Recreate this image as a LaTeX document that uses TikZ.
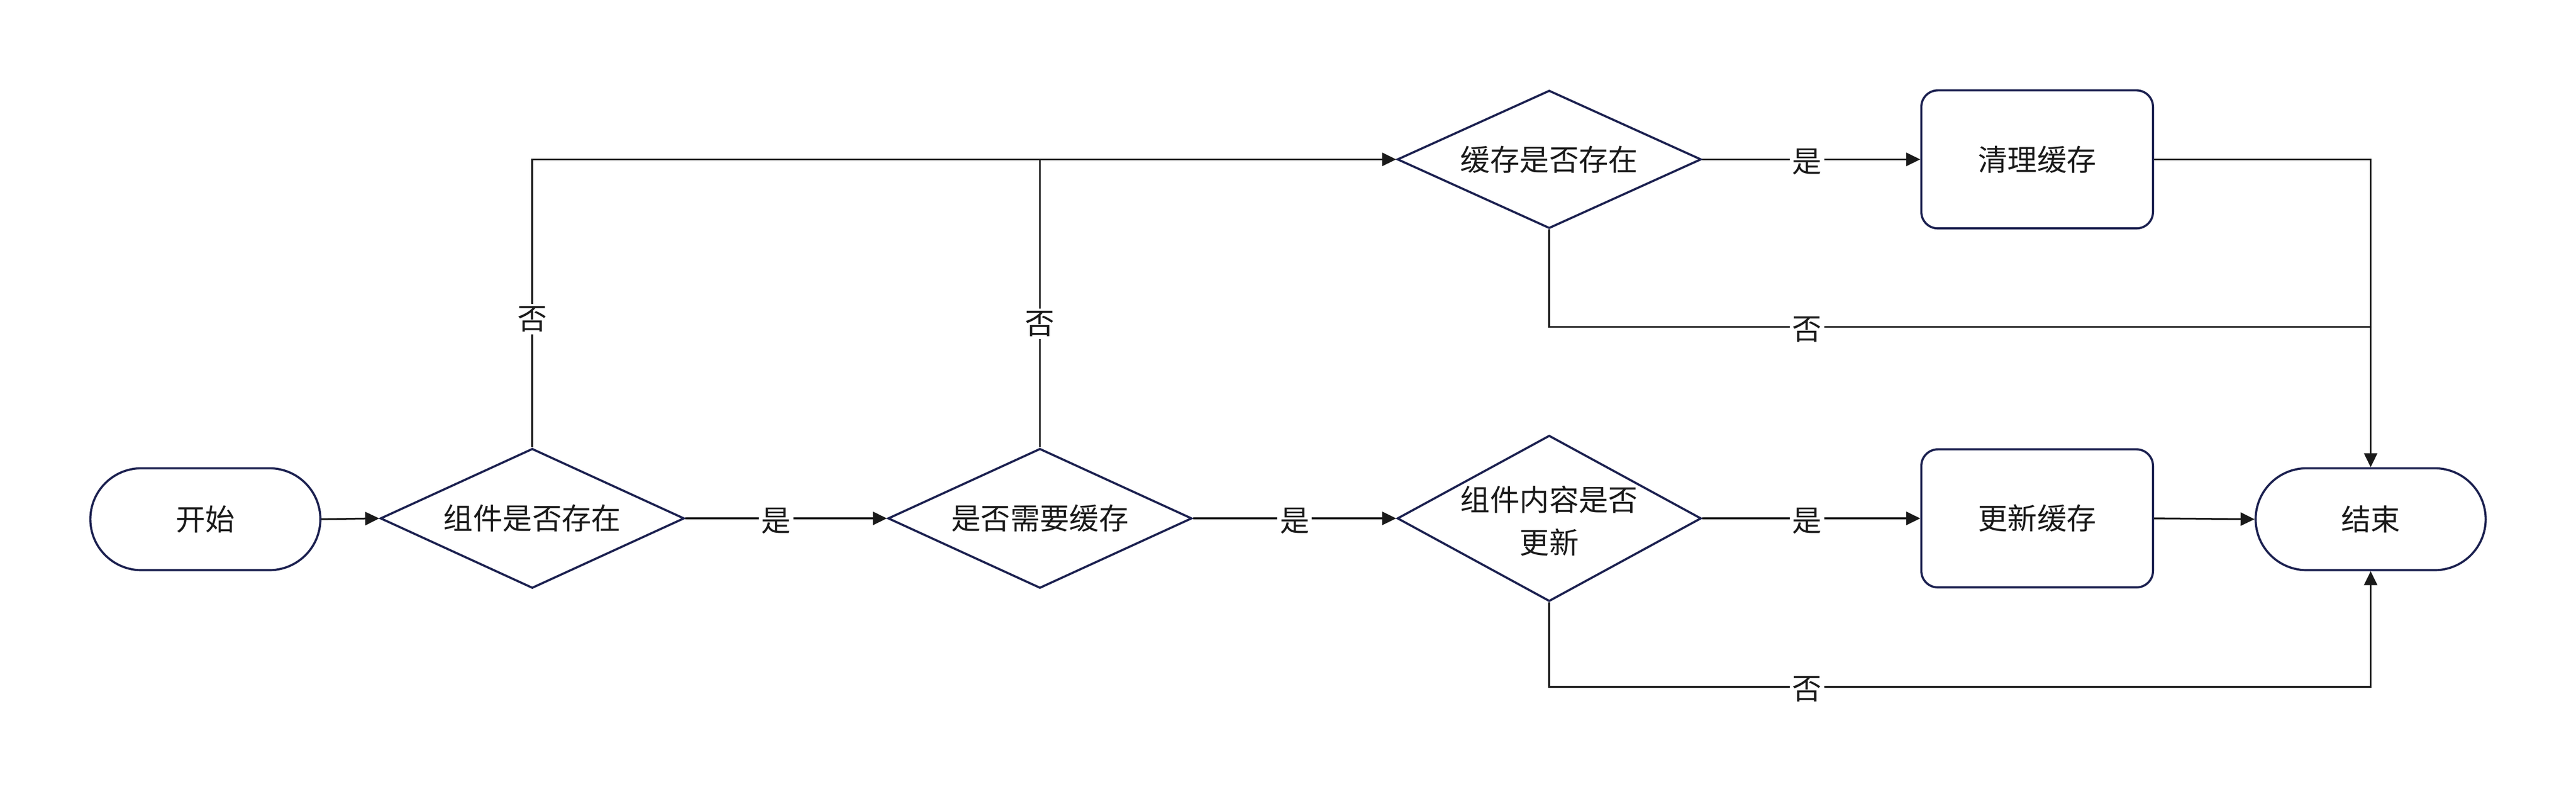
\documentclass[tikz,border=0pt]{standalone}
\usepackage{fontspec}
\setmainfont{Noto Sans CJK SC}
\usetikzlibrary{shapes.geometric,arrows.meta}
\definecolor{nodeblue}{HTML}{1C2150}
\definecolor{linegray}{HTML}{1A1A1A}
\definecolor{txt}{HTML}{1A1A1A}
\begin{document}
\begin{tikzpicture}[x=1pt,y=-1pt,
  every node/.style={text=txt},
  cjk/.style={font=\fontsize{18}{26}\selectfont},
  shapeline/.style={draw=nodeblue,line width=1.3pt,fill=white},
  terminal/.style={shapeline,cjk,rectangle,rounded corners=31pt,minimum width=140pt,minimum height=62pt,inner sep=0pt},
  process/.style={shapeline,cjk,rectangle,rounded corners=10pt,minimum width=141pt,minimum height=84pt,inner sep=0pt},
  decision/.style={shapeline,diamond,inner sep=0pt},
  dtext/.style={cjk,align=center,inner sep=0pt},
  conn/.style={draw=linegray,line width=1.1pt},
  arr/.style={conn,-{Triangle[length=8.5pt,width=8pt]}},
  lbl/.style={cjk,fill=white,inner sep=1.5pt,yshift=-1.5pt}
]
\useasboundingbox (0,0) rectangle (1568,483);

% nodes
\node[terminal] (start) at (125,316) {开始};
\node[decision,minimum width=185pt,minimum height=85pt] (d1) at (324,315.5) {};
\node[dtext] (d1t) at (d1.center) {组件是否存在};
\node[decision,minimum width=185pt,minimum height=85pt] (d2) at (633,315.5) {};
\node[dtext] (d2t) at (d2.center) {是否需要缓存};
\node[decision,minimum width=185pt,minimum height=101pt] (d3) at (943,315.5) {};
\node[dtext] (d3t) at (943,317) {组件内容是否\\更新};
\node[decision,minimum width=185pt,minimum height=84pt] (d4) at (943,97) {};
\node[dtext] (d4t) at (d4.center) {缓存是否存在};
\node[process] (clr) at (1240,97) {清理缓存};
\node[process] (upd) at (1240,315.5) {更新缓存};
\node[terminal] (end) at (1443,316) {结束};

\coordinate (j1) at (1443,199);
\coordinate (j2) at (1443,418);

% connectors
\draw[arr] (start.east) -- (d1.west);
\draw[arr] (d1.east) -- node[lbl,pos=0.45]{是} (d2.west);
\draw[arr] (d1.north) |- node[lbl,pos=0.227]{否} (d4.west);
\draw[conn] (d2.north) -- node[lbl,pos=0.4375]{否} (d2.north |- d4.west);
\draw[arr] (d2.east) -- node[lbl]{是} (d3.west);
\draw[arr] (d3.east) -- node[lbl,pos=0.48]{是} (upd.west);
\draw[arr] (upd.east) -- (end.west);
\draw[arr] (d4.east) -- node[lbl,pos=0.48]{是} (clr.west);
\draw[arr] (clr.east) -| (end.north);
\draw[conn] (d4.south) |- node[lbl,pos=0.657]{否} (j1);
\draw[arr] (d3.south) |- node[lbl,pos=0.657]{否} (j2) -- (end.south);
\end{tikzpicture}
\end{document}
